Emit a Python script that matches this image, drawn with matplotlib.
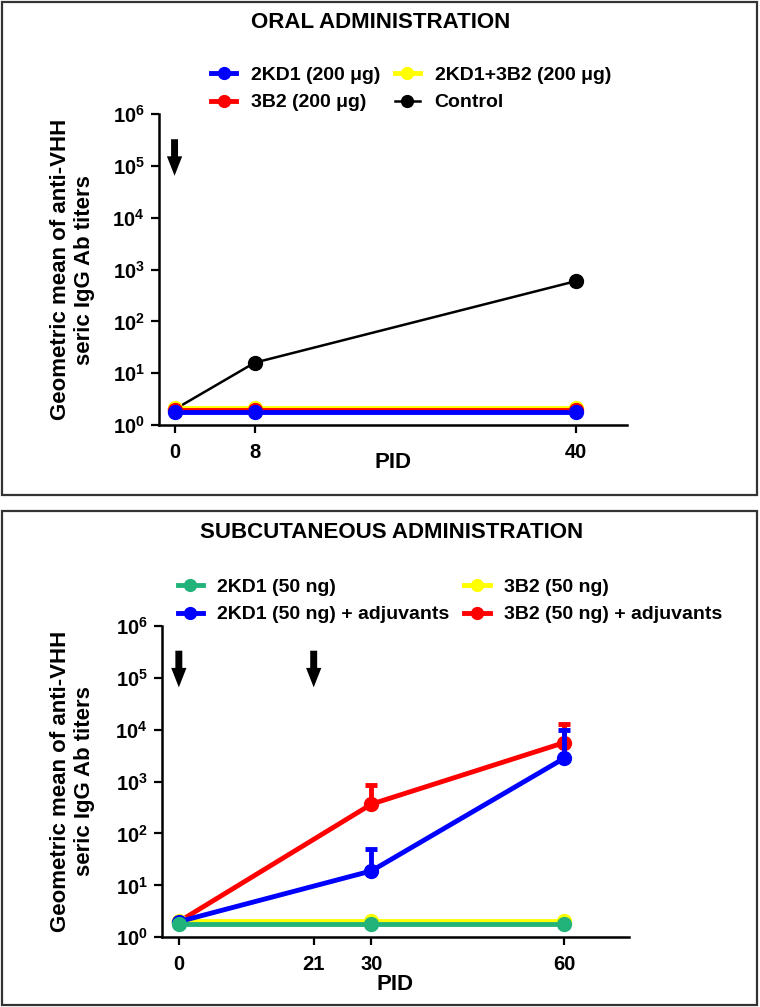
import matplotlib

matplotlib.use("Agg")
import matplotlib.pyplot as plt
from matplotlib.patches import Rectangle

plt.rcParams["font.family"] = ["Liberation Sans", "DejaVu Sans"]
plt.rcParams["font.weight"] = "bold"
plt.rcParams["mathtext.fontset"] = "custom"
plt.rcParams["mathtext.rm"] = "Liberation Sans:bold"
plt.rcParams["mathtext.bf"] = "Liberation Sans:bold"

# oral administration
oral_pid = [0, 8, 40]
oral_2kd1 = [1.8, 1.8, 1.8]
oral_3b2 = [1.95, 1.95, 1.95]
oral_mix = [2.1, 2.1, 2.1]
oral_control = [2.0, 16.0, 600.0]
oral_arrows = [0]

# subcutaneous administration
sc_pid = [0, 30, 60]
sc_2kd1 = [1.8, 1.8, 1.8]
sc_3b2 = [2.1, 2.1, 2.1]
sc_2kd1_adj = [2.0, 19.0, 2800.0]
sc_2kd1_adj_err = [0.0, 32.0, 7000.0]
sc_3b2_adj = [2.0, 367.0, 5600.0]
sc_3b2_adj_err = [0.0, 480.0, 7400.0]
sc_arrows = [0, 21]
sc_xticks = [0, 21, 30, 60]

YLABEL = "Geometric mean of anti-VHH\nseric IgG Ab titers"
GREEN = "#22B37A"

W, H = 760, 1007
fig = plt.figure(figsize=(W / 100, H / 100), dpi=100)


def fx(px):
    return px / W


def fy(py):
    return 1 - py / H


def style_axes(ax, xlim, xticks):
    ax.set_yscale("log")
    ax.set_ylim(1, 1e6)
    ax.set_xlim(*xlim)
    ax.set_yticks([10 ** k for k in range(7)])
    ax.set_yticklabels([rf"$\mathbf{{10^{{{k}}}}}$" for k in range(7)])
    ax.yaxis.set_minor_locator(matplotlib.ticker.NullLocator())
    ax.set_xticks(xticks)
    ax.set_xticklabels([str(t) for t in xticks])
    ax.tick_params(axis="both", direction="out", width=1.6, length=6, labelsize=14.5, pad=4)
    ax.tick_params(axis="x", pad=7)
    for s in ("top", "right"):
        ax.spines[s].set_visible(False)
    for s in ("left", "bottom"):
        ax.spines[s].set_linewidth(1.8)


def add_arrows(ax, xs):
    for x in xs:
        ax.annotate("", xy=(x, 6.5e4), xytext=(x, 3.3e5),
                    arrowprops=dict(arrowstyle="simple,head_width=1.1,head_length=1.4,tail_width=0.5",
                                    mutation_scale=10, shrinkA=0, shrinkB=0,
                                    color="black", lw=0))


def add_panel_box(y0, y1):
    fig.patches.append(Rectangle((fx(2), fy(y1)), fx(755), (y1 - y0) / H,
                                 transform=fig.transFigure, fill=False,
                                 edgecolor="#333333", lw=1.6))


line_kw = dict(marker="o", markersize=10, lw=3.5, clip_on=False)
leg_kw = dict(ncol=2, loc="center", bbox_transform=fig.transFigure, frameon=False,
              fontsize=14, handlelength=1.3, handletextpad=0.75, columnspacing=0.75,
              labelspacing=0.5, markerscale=0.85)

# ---------- top panel ----------
ax1 = fig.add_axes([fx(158.5), fy(425), fx(627 - 158.5), (425 - 114.3) / H])
h_ctrl, = ax1.plot(oral_pid, oral_control, color="black", marker="o", markersize=10,
                   lw=1.8, zorder=2, clip_on=False)
h_mix, = ax1.plot(oral_pid, oral_mix, color="#FFFF00", zorder=3, **line_kw)
h_3b2, = ax1.plot(oral_pid, oral_3b2, color="#FF0000", zorder=4, **line_kw)
h_2kd1, = ax1.plot(oral_pid, oral_2kd1, color="#0000FF", zorder=5, **line_kw)
style_axes(ax1, (-1.6, 45.1), oral_pid)
add_arrows(ax1, oral_arrows)
ax1.legend([h_2kd1, h_3b2, h_mix, h_ctrl],
           ["2KD1 (200 \u03bcg)", "3B2 (200 \u03bcg)", "2KD1+3B2 (200 \u03bcg)", "Control"],
           bbox_to_anchor=(fx(411), fy(89)), **leg_kw)
fig.text(fx(381), fy(23), "ORAL ADMINISTRATION", ha="center", va="center", fontsize=16)
fig.text(fx(72.5), fy(269.6), YLABEL, rotation=90, ha="center", va="center",
         multialignment="center", fontsize=16)
fig.text(fx(393), fy(462), "PID", ha="center", va="center", fontsize=16)
add_panel_box(2, 495)

# ---------- bottom panel ----------
ax2 = fig.add_axes([fx(161.5), fy(937.3), fx(629 - 161.5), (937.3 - 625.7) / H])
h_r = ax2.errorbar(sc_pid, sc_3b2_adj, yerr=[[0, 0, 0], sc_3b2_adj_err], color="#FF0000",
                   capsize=4.5, capthick=3.5, elinewidth=3.5, zorder=2, **line_kw)
h_y, = ax2.plot(sc_pid, sc_3b2, color="#FFFF00", zorder=3, **line_kw)
h_b = ax2.errorbar(sc_pid, sc_2kd1_adj, yerr=[[0, 0, 0], sc_2kd1_adj_err], color="#0000FF",
                   capsize=4.5, capthick=3.5, elinewidth=3.5, zorder=4, **line_kw)
h_g, = ax2.plot(sc_pid, sc_2kd1, color=GREEN, zorder=5, **line_kw)
style_axes(ax2, (-2.7, 70.1), sc_xticks)
add_arrows(ax2, sc_arrows)
ax2.legend([h_g, h_b[0], h_y, h_r[0]],
           ["2KD1 (50 ng)", "2KD1 (50 ng) + adjuvants", "3B2 (50 ng)", "3B2 (50 ng) + adjuvants"],
           bbox_to_anchor=(fx(450), fy(601)), **leg_kw)
fig.text(fx(392), fy(532), "SUBCUTANEOUS ADMINISTRATION", ha="center", va="center", fontsize=16)
fig.text(fx(72.5), fy(781.5), YLABEL, rotation=90, ha="center", va="center",
         multialignment="center", fontsize=16)
fig.text(fx(395), fy(985), "PID", ha="center", va="center", fontsize=16)
add_panel_box(511, 1005)

fig.savefig("out.png", dpi=100)
